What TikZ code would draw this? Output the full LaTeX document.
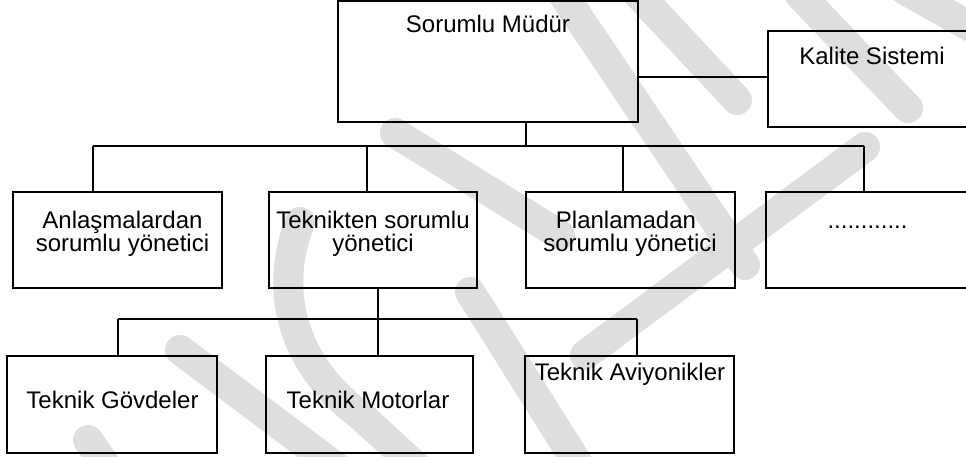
\documentclass[tikz,border=0pt]{standalone}
\usepackage{fontspec}
\setmainfont{Liberation Sans}
\definecolor{wm}{RGB}{222,222,222}
\begin{document}
\begin{tikzpicture}[x=1pt,y=-1pt,
  box/.style={draw=black,line width=2pt,rectangle,inner sep=0pt,outer sep=0pt},
  lbl/.style={anchor=base,inner sep=0pt,text height=14pt,text depth=4pt,font=\fontsize{24}{21}\selectfont},
  conn/.style={draw=black,line width=2pt},
  wmark/.style={draw=wm,line width=30pt,line cap=round,line join=round}]
\useasboundingbox (0,0) rectangle (966,457);
\clip (0,0) rectangle (966,457);
% watermark
\draw[wmark] (88,440) -- (130,500);
\draw[wmark] (180,350) -- (340,470);
\draw[wmark] (300,222) .. controls (270,300) and (300,370) .. (360,415) -- (420,470);
\draw[wmark] (395,133) -- (560,235);
\draw[wmark] (560,-10) -- (745,265);
\draw[wmark] (625,-20) -- (737,100);
\draw[wmark] (800,-5) -- (908,108);
\draw[wmark] (905,-10) -- (985,35);
\draw[wmark] (865,147) -- (585,355);
\draw[wmark] (470,292) -- (585,475);
% boxes
\node[box,minimum width=300pt,minimum height=121pt] (SM) at (488,61.5) {};
\node[box,minimum width=212pt,minimum height=96pt] (KS) at (874,79) {};
\node[box,minimum width=209pt,minimum height=96pt] (B1) at (117.5,240) {};
\node[box,minimum width=208pt,minimum height=96pt] (B2) at (373,240) {};
\node[box,minimum width=209pt,minimum height=96pt] (B3) at (630.5,240) {};
\node[box,minimum width=214pt,minimum height=96pt] (B4) at (873,240) {};
\node[box,minimum width=210pt,minimum height=97pt] (C1) at (112,404.5) {};
\node[box,minimum width=207pt,minimum height=97pt] (C2) at (369.5,404.5) {};
\node[box,minimum width=209pt,minimum height=97pt] (C3) at (629.5,404.5) {};
% labels
\node[lbl] (tSM) at (488,33) {Sorumlu Müdür};
\node[lbl] (tKS) at (872,65) {Kalite Sistemi};
\node[lbl] (tB1a) at (122.5,228.5) {Anlaşmalardan};
\node[lbl] (tB1b) at (122.5,251) {sorumlu yönetici};
\node[lbl] (tB2a) at (373,228.5) {Teknikten sorumlu};
\node[lbl] (tB2b) at (373,251) {yönetici};
\node[lbl] (tB3a) at (626,228.5) {Planlamadan};
\node[lbl] (tB3b) at (630,251) {sorumlu yönetici};
\node[lbl] (tB4) at (867.5,228.5) {............};
\node[lbl] (tC1) at (112.5,408) {Teknik Gövdeler};
\node[lbl] (tC2) at (368,408) {Teknik Motorlar};
\node[lbl] (tC3) at (630,380) {Teknik Aviyonikler};
% junction coordinates
\coordinate (k) at (700,77);
\coordinate (j1) at (526,146);
\coordinate (d1) at (93,146);
\coordinate (d2) at (367,146);
\coordinate (d3) at (623,146);
\coordinate (d4) at (864,146);
\coordinate (j2) at (378,319);
\coordinate (e1) at (118,319);
\coordinate (e3) at (637,319);
% connectors
\draw[conn] (SM.east |- k) -- (KS.west |- k);
\draw[conn] (SM.south -| j1) -- (j1);
\draw[conn] (d1) -- (d4);
\draw[conn] (d1) -- (d1 |- B1.north);
\draw[conn] (d2) -- (d2 |- B2.north);
\draw[conn] (d3) -- (d3 |- B3.north);
\draw[conn] (d4) -- (d4 |- B4.north);
\draw[conn] (B2.south -| j2) -- (j2 |- C2.north);
\draw[conn] (e1) -- (e3);
\draw[conn] (e1) -- (e1 |- C1.north);
\draw[conn] (e3) -- (e3 |- C3.north);
\end{tikzpicture}
\end{document}
